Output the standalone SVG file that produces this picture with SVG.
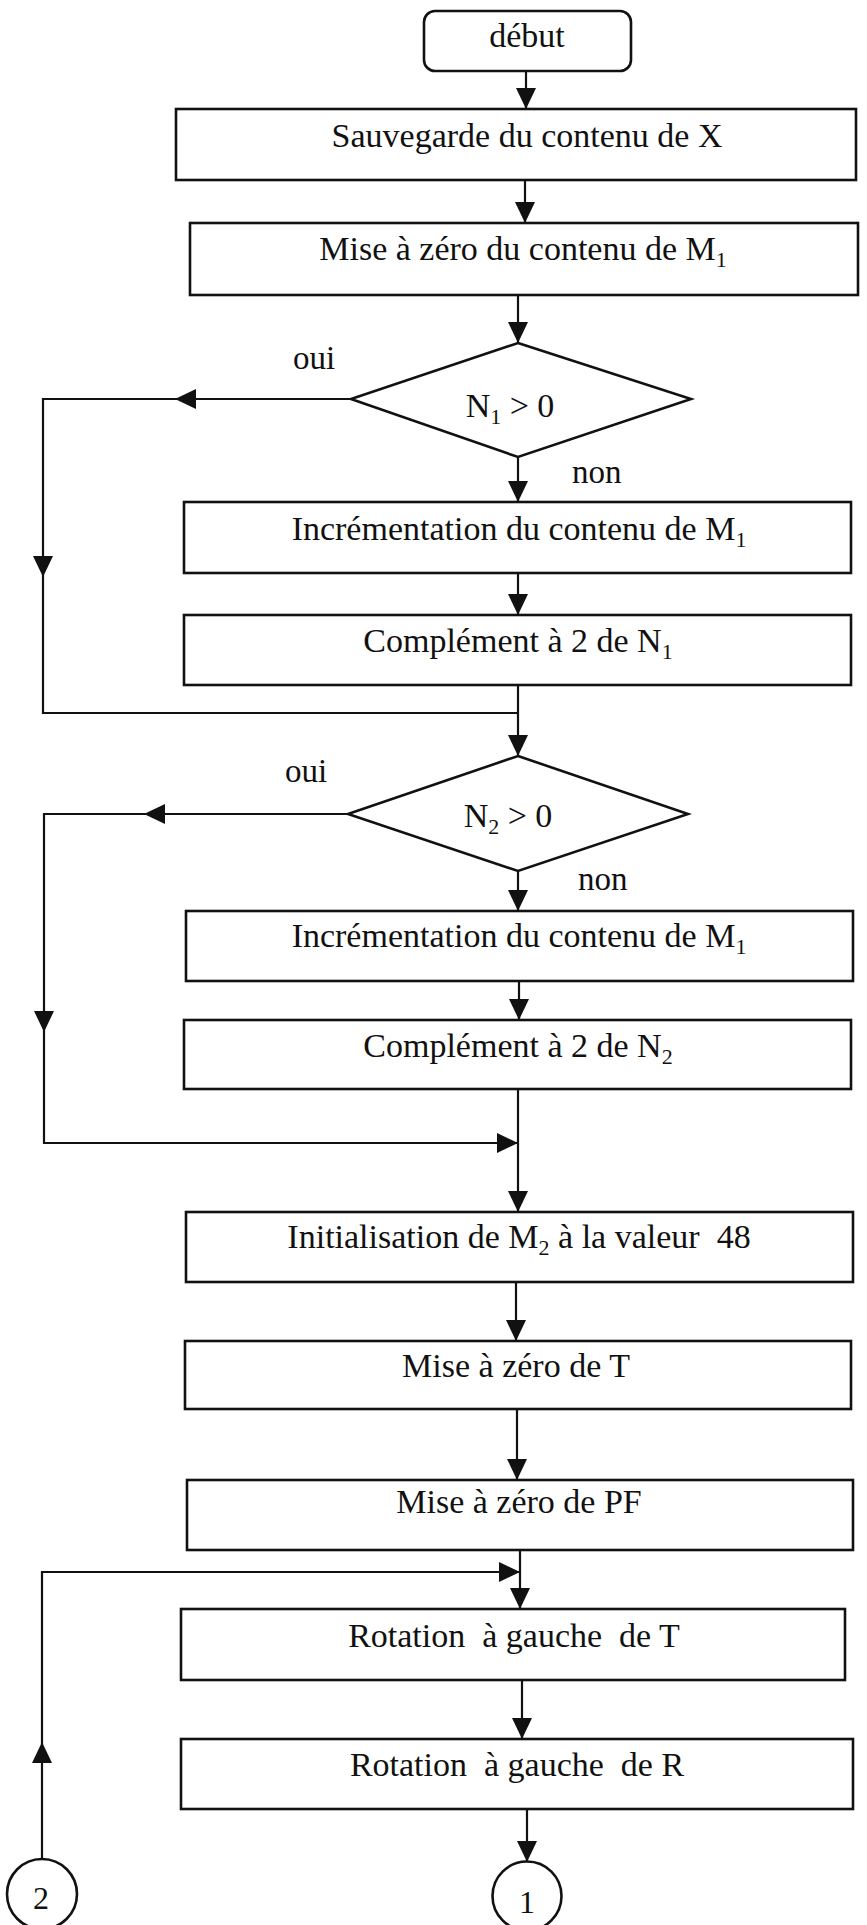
<svg xmlns="http://www.w3.org/2000/svg" width="867" height="1925" viewBox="0 0 867 1925">
  <style>
    .box { fill: #ffffff; stroke: #111; stroke-width: 2.6; }
    .con { fill: none; stroke: #111; stroke-width: 2.2; }
    .t { font-family: "Liberation Serif", "Times New Roman", serif; font-size: 34px; fill: #111; text-anchor: middle; white-space: pre; }
    .lbl { font-family: "Liberation Serif", "Times New Roman", serif; font-size: 33px; fill: #111; }
    .sub { font-size: 22px; }
  </style>
  <defs>
    <marker id="arrow" markerUnits="userSpaceOnUse" markerWidth="21" markerHeight="20" refX="21" refY="10" orient="auto">
      <path d="M0,0 L21,10 L0,20 z" fill="#111"/>
    </marker>
  </defs>
  <rect x="0" y="0" width="867" height="1925" fill="#ffffff"/>

  <!-- connectors -->
  <g id="connectors">
    <path class="con" d="M526,71 V109" marker-end="url(#arrow)"/>
    <path class="con" d="M525,180 V223" marker-end="url(#arrow)"/>
    <path class="con" d="M518,295 V343" marker-end="url(#arrow)"/>
    <!-- branch oui of N1 > 0 -->
    <path class="con" d="M351,399 H175" marker-end="url(#arrow)"/>
    <path class="con" d="M175,399 H43 V577" marker-end="url(#arrow)"/>
    <path class="con" d="M43,577 V713 H518"/>
    <path class="con" d="M518,457 V502" marker-end="url(#arrow)"/>
    <path class="con" d="M518,573 V615" marker-end="url(#arrow)"/>
    <path class="con" d="M518,685 V756" marker-end="url(#arrow)"/>
    <!-- branch oui of N2 > 0 -->
    <path class="con" d="M348,814 H144" marker-end="url(#arrow)"/>
    <path class="con" d="M144,814 H44 V1032" marker-end="url(#arrow)"/>
    <path class="con" d="M44,1032 V1143 H518" marker-end="url(#arrow)"/>
    <path class="con" d="M518,871 V911" marker-end="url(#arrow)"/>
    <path class="con" d="M519,981 V1020" marker-end="url(#arrow)"/>
    <path class="con" d="M518,1089 V1212" marker-end="url(#arrow)"/>
    <path class="con" d="M516,1282 V1341" marker-end="url(#arrow)"/>
    <path class="con" d="M517,1409 V1480" marker-end="url(#arrow)"/>
    <path class="con" d="M520,1550 V1609" marker-end="url(#arrow)"/>
    <!-- return from connector 2 -->
    <path class="con" d="M42,1859 V1742" marker-end="url(#arrow)"/>
    <path class="con" d="M42,1742 V1572 H520" marker-end="url(#arrow)"/>
    <path class="con" d="M522,1680 V1739" marker-end="url(#arrow)"/>
    <path class="con" d="M527,1809 V1862" marker-end="url(#arrow)"/>
    <text class="lbl" x="293" y="369">oui</text>
    <text class="lbl" x="572" y="483">non</text>
    <text class="lbl" x="285" y="782">oui</text>
    <text class="lbl" x="578" y="890">non</text>
  </g>

  <g id="debut">
    <rect class="box" x="424" y="11" width="207" height="60" rx="11"/>
    <text class="t" x="527" y="47">début</text>
  </g>
  <g id="sauvegarde">
    <rect class="box" x="176" y="109" width="680" height="71"/>
    <text class="t" x="527" y="147">Sauvegarde du contenu de X</text>
  </g>
  <g id="raz-m1">
    <rect class="box" x="190" y="223" width="668" height="72"/>
    <text class="t" x="523" y="260">Mise à zéro du contenu de M<tspan class="sub" dy="7">1</tspan></text>
  </g>
  <g id="test-n1">
    <polygon class="box" points="518,343 691,399 518,457 351,399"/>
    <text class="t" x="510" y="417">N<tspan class="sub" dy="7">1</tspan><tspan dy="-7"> &gt; 0</tspan></text>
  </g>
  <g id="inc-m1-a">
    <rect class="box" x="184" y="502" width="667" height="71"/>
    <text class="t" x="519" y="540">Incrémentation du contenu de M<tspan class="sub" dy="7">1</tspan></text>
  </g>
  <g id="cpl-n1">
    <rect class="box" x="184" y="615" width="667" height="70"/>
    <text class="t" x="518" y="652">Complément à 2 de N<tspan class="sub" dy="7">1</tspan></text>
  </g>
  <g id="test-n2">
    <polygon class="box" points="518,756 688,814 518,871 348,814"/>
    <text class="t" x="508" y="827">N<tspan class="sub" dy="7">2</tspan><tspan dy="-7"> &gt; 0</tspan></text>
  </g>
  <g id="inc-m1-b">
    <rect class="box" x="186" y="911" width="667" height="70"/>
    <text class="t" x="519" y="947">Incrémentation du contenu de M<tspan class="sub" dy="7">1</tspan></text>
  </g>
  <g id="cpl-n2">
    <rect class="box" x="184" y="1020" width="667" height="69"/>
    <text class="t" x="518" y="1057">Complément à 2 de N<tspan class="sub" dy="7">2</tspan></text>
  </g>
  <g id="init-m2">
    <rect class="box" x="186" y="1212" width="667" height="70"/>
    <text class="t" x="519" y="1248">Initialisation de M<tspan class="sub" dy="7">2</tspan><tspan dy="-7"> à la valeur  48</tspan></text>
  </g>
  <g id="raz-t">
    <rect class="box" x="185" y="1341" width="666" height="68"/>
    <text class="t" x="516" y="1377">Mise à zéro de T</text>
  </g>
  <g id="raz-pf">
    <rect class="box" x="187" y="1480" width="666" height="70"/>
    <text class="t" x="519" y="1513">Mise à zéro de PF</text>
  </g>
  <g id="rot-t">
    <rect class="box" x="181" y="1609" width="664" height="71"/>
    <text class="t" x="514" y="1647">Rotation  à gauche  de T</text>
  </g>
  <g id="rot-r">
    <rect class="box" x="181" y="1739" width="672" height="70"/>
    <text class="t" x="517" y="1776">Rotation  à gauche  de R</text>
  </g>
  <g id="conn-1">
    <circle class="box" cx="527" cy="1896" r="34.5"/>
    <text class="t" x="527" y="1913" style="font-size:32px">1</text>
  </g>
  <g id="conn-2">
    <circle class="box" cx="42" cy="1894" r="35"/>
    <text class="t" x="41" y="1909" style="font-size:32px">2</text>
  </g>
</svg>
